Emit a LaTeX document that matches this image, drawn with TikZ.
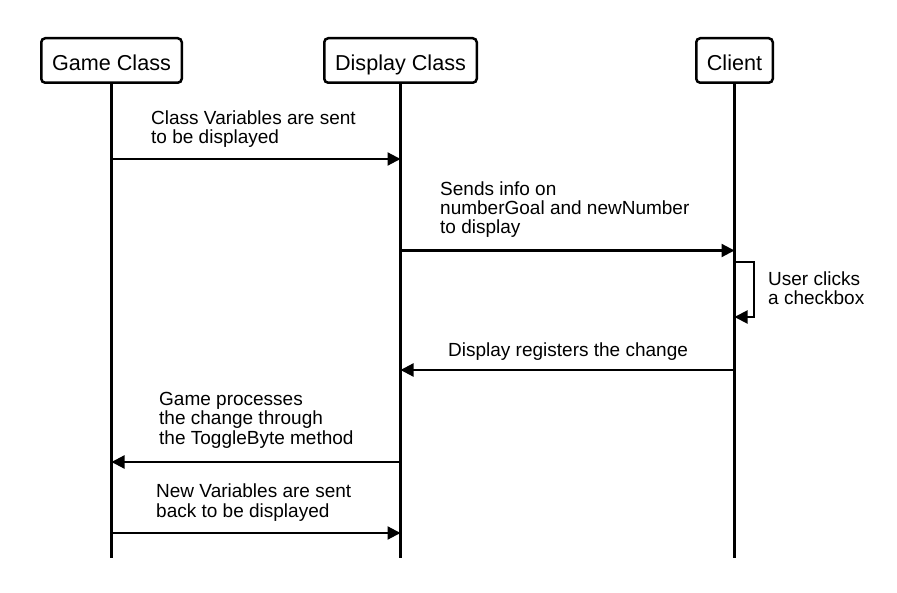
\documentclass[tikz,border=0pt]{standalone}
\usepackage{fontspec}
\setmainfont{Liberation Sans}
\usetikzlibrary{arrows.meta,positioning}
\begin{document}
\begin{tikzpicture}[x=1pt,y=-1pt,
		actor/.style={draw,line width=2.5pt,rounded corners=4pt,minimum height=44.5pt,inner sep=0pt,text height=20.4pt,text depth=0pt,font=\fontsize{21.6}{24}\selectfont},
		life/.style={line width=2.5pt},
		msg/.style={line width=2.2pt,-{Triangle[length=13pt,width=13pt]}},
		lbl/.style={anchor=base west,inner sep=0pt,align=left,font=\fontsize{19}{19.2}\selectfont}]
		\useasboundingbox (0,0) rectangle (897,593);
		\node[actor,minimum width=140.5pt] (game) at (111.5,60.5) {Game Class};
		\node[actor,minimum width=152.5pt] (disp) at (400.5,60.5) {Display Class};
		\node[actor,minimum width=76.5pt] (client) at (734.5,60.5) {Client};
		\foreach \n in {game,disp,client}{
			\coordinate (\n-end) at (\n |- 0,558);
			\draw [life] (\n.south) -- (\n-end);
		}
		% messages between the lifelines
		\foreach \from/\to/\y [count=\i] in {game/disp/159, disp/client/250.5, client/disp/370, disp/game/462, game/disp/533}{
			\coordinate (m\i a) at (\from |- 0,\y);
			\coordinate (m\i b) at (\to |- 0,\y);
			\draw [msg] (m\i a) -- (m\i b);
		}
		% self message on the client
		\coordinate (s1) at (client |- 0,262);
		\coordinate (s2) at (client |- 0,317);
		\draw [msg,line width=2pt] (s1) -- ++(19.5,0) |- (s2);
		% labels, placed at the baseline of their last line
		\node[lbl] (l1) at (151,143.5) {Class Variables are sent\\to be displayed};
		\node[lbl] (l2) at (440,233.5) {Sends info on\\numberGoal and newNumber\\to display};
		\node[lbl] (l3) at (768,305) {User clicks\\a checkbox};
		\node[lbl] (l4) at (448,357) {Display registers the change};
		\node[lbl] (l5) at (159,444) {Game processes\\the change through\\the ToggleByte method};
		\node[lbl] (l6) at (156,517) {New Variables are sent\\back to be displayed};
\end{tikzpicture}
\end{document}
